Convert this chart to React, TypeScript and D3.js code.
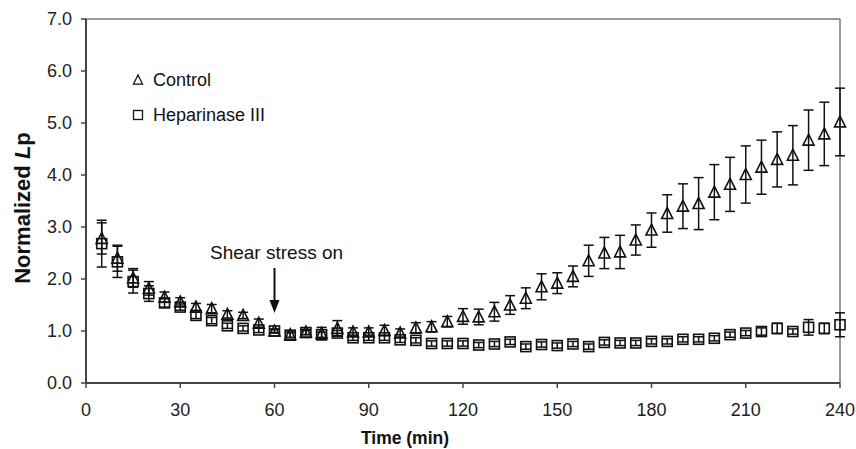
import React from "react";
import * as d3 from "d3";

const times = [5,10,15,20,25,30,35,40,45,50,55,60,65,70,75,80,85,90,95,100,105,110,115,120,125,130,135,140,145,150,155,160,165,170,175,180,185,190,195,200,205,210,215,220,225,230,235,240];
const controlMean = [2.78,2.4,2.02,1.82,1.65,1.56,1.46,1.43,1.32,1.3,1.15,1.0,0.93,0.98,0.95,1.05,0.98,0.98,1.01,0.96,1.06,1.08,1.18,1.28,1.27,1.37,1.5,1.63,1.85,1.92,2.05,2.35,2.5,2.52,2.75,2.94,3.26,3.4,3.45,3.67,3.82,4.01,4.15,4.3,4.38,4.67,4.79,5.02];
const controlErr = [0.3,0.25,0.18,0.13,0.1,0.08,0.07,0.08,0.07,0.06,0.08,0.03,0.05,0.05,0.12,0.15,0.08,0.08,0.1,0.08,0.1,0.1,0.1,0.15,0.15,0.18,0.18,0.2,0.25,0.2,0.2,0.3,0.3,0.32,0.29,0.33,0.36,0.43,0.5,0.53,0.52,0.55,0.52,0.53,0.57,0.58,0.61,0.65];
const hepMean = [2.68,2.33,1.95,1.72,1.54,1.46,1.3,1.2,1.1,1.05,1.02,1.0,0.92,0.97,0.93,0.96,0.87,0.87,0.87,0.83,0.82,0.76,0.76,0.76,0.73,0.75,0.79,0.7,0.74,0.72,0.75,0.7,0.78,0.77,0.77,0.8,0.8,0.84,0.84,0.86,0.93,0.96,0.99,1.05,0.99,1.07,1.05,1.12];
const hepErr = [0.45,0.3,0.22,0.15,0.08,0.06,0.06,0.06,0.05,0.05,0.05,0.04,0.05,0.04,0.05,0.05,0.05,0.05,0.05,0.05,0.05,0.05,0.05,0.05,0.05,0.05,0.05,0.05,0.05,0.05,0.05,0.05,0.05,0.05,0.05,0.05,0.05,0.05,0.05,0.05,0.05,0.05,0.07,0.1,0.05,0.15,0.1,0.23];
const xTicks = [0,30,60,90,120,150,180,210,240];
const yTicks = [0,1,2,3,4,5,6,7];
const legendLabels = ["Control", "Heparinase III"];
const annotationText = "Shear stress on";
const annotationTime = 60;

const W = 856, H = 449;
const x = d3.scaleLinear().domain([0, 240]).range([86, 840]);
const y = d3.scaleLinear().domain([0, 7]).range([383, 19]);
const font = "Arial, 'Liberation Sans', Helvetica, sans-serif";

function tri(cx: number, cy: number, s: number) {
  const h = s * 0.9;
  return `M${cx},${cy - h / 2 - 1}L${cx + s / 2},${cy + h / 2}L${cx - s / 2},${cy + h / 2}Z`;
}

function ErrorBars({ means, errs }: { means: number[]; errs: number[] }) {
  return (
    <g stroke="#111" strokeWidth={1.5}>
      {times.map((t, i) => {
        const cx = x(t);
        const y1 = y(means[i] + errs[i]);
        const y2 = y(means[i] - errs[i]);
        return (
          <g key={i}>
            <line x1={cx} x2={cx} y1={y1} y2={y2} />
            <line x1={cx - 5} x2={cx + 5} y1={y1} y2={y1} />
            <line x1={cx - 5} x2={cx + 5} y1={y2} y2={y2} />
          </g>
        );
      })}
    </g>
  );
}

export default function App() {
  const ax = annotationTime;
  return (
    <svg width={W} height={H} style={{ position: "absolute", left: 0, top: 0 }}>
      <rect width={W} height={H} fill="#fff" />
      {/* frame */}
      <line x1={86} x2={840} y1={19} y2={19} stroke="#777" strokeWidth={1.5} />
      <line x1={840} x2={840} y1={19} y2={383} stroke="#777" strokeWidth={1.5} />
      {/* y axis */}
      <line x1={86} x2={86} y1={19} y2={383} stroke="#444" strokeWidth={2} />
      {yTicks.map((v) => (
        <g key={v}>
          <line x1={81} x2={86} y1={y(v)} y2={y(v)} stroke="#444" strokeWidth={1.5} />
          <text x={72} y={y(v)} dy="0.36em" textAnchor="end" fontFamily={font} fontSize={18} fill="#222">
            {v.toFixed(1)}
          </text>
        </g>
      ))}
      {/* x axis */}
      <line x1={86} x2={840} y1={383} y2={383} stroke="#444" strokeWidth={2} />
      {xTicks.map((v) => (
        <g key={v}>
          <line x1={x(v)} x2={x(v)} y1={383} y2={388} stroke="#444" strokeWidth={1.5} />
          <text x={x(v)} y={410} dy="0.36em" textAnchor="middle" fontFamily={font} fontSize={18} fill="#222">
            {v}
          </text>
        </g>
      ))}
      <text x={405} y={438} dy="0.36em" textAnchor="middle" fontFamily={font} fontSize={17.5} fontWeight="bold" fill="#111">
        Time (min)
      </text>
      <text transform={`translate(30,${208}) rotate(-90)`} textAnchor="middle" fontFamily={font} fontSize={22} fontWeight="bold" fill="#111">
        Normalized <tspan fontStyle="italic">L</tspan>p
      </text>
      {/* legend */}
      <path d={tri(138, 80, 9)} fill="none" stroke="#111" strokeWidth={1.3} />
      <text x={153} y={80} dy="0.36em" fontFamily={font} fontSize={18} fill="#111">{legendLabels[0]}</text>
      <rect x={133.5} y={110.5} width={9} height={9} fill="none" stroke="#111" strokeWidth={1.3} />
      <text x={153} y={115} dy="0.36em" fontFamily={font} fontSize={18} fill="#111">{legendLabels[1]}</text>
      {/* annotation */}
      <text x={210} y={252} dy="0.36em" fontFamily={font} fontSize={19} fill="#111">{annotationText}</text>
      <line x1={x(ax)} x2={x(ax)} y1={268} y2={302} stroke="#111" strokeWidth={2} />
      <path d={`M${x(ax) - 5},${300}L${x(ax) + 5},${300}L${x(ax)},${313}Z`} fill="#111" />
      {/* series */}
      <ErrorBars means={hepMean} errs={hepErr} />
      <ErrorBars means={controlMean} errs={controlErr} />
      <g fill="none" stroke="#111" strokeWidth={1.6}>
        {times.map((t, i) => (
          <rect key={i} x={x(t) - 5} y={y(hepMean[i]) - 5} width={10} height={10} />
        ))}
        {times.map((t, i) => (
          <path key={i} d={tri(x(t), y(controlMean[i]), 11)} />
        ))}
      </g>
    </svg>
  );
}
